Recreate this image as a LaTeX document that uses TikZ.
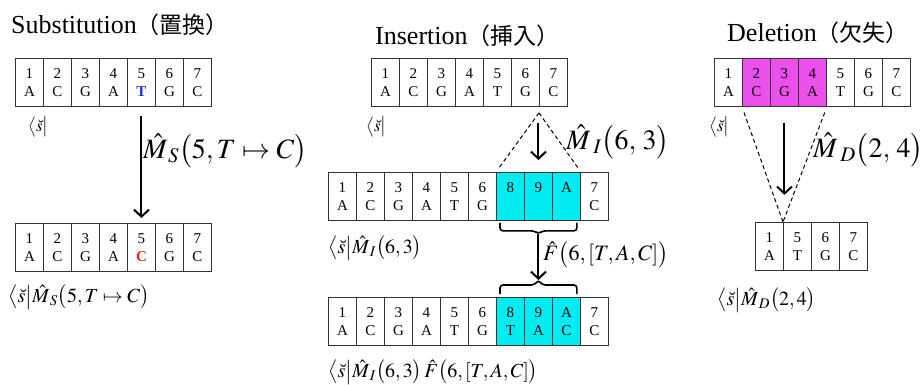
\documentclass[tikz,border=0pt]{standalone}
\usepackage{amsmath}
\usepackage{mathptmx}
\usepackage[no-math]{fontspec}
\setmainfont{Liberation Serif}
\newfontfamily\ttlfont{Liberation Serif}
\newfontfamily\cjk{Noto Sans CJK JP}
\usetikzlibrary{arrows.meta,calc}
\definecolor{cyanfill}{RGB}{0,236,240}
\definecolor{magfill}{RGB}{235,80,235}
\definecolor{tblue}{RGB}{20,50,235}
\definecolor{cred}{RGB}{245,30,30}
\newcommand{\cj}[1]{{\fontsize{23}{25}\cjk #1}}
\newcommand{\bra}{\bigl\langle\breve{s}\bigr\rvert}
\begin{document}
\begin{tikzpicture}[x=1pt,y=-1pt,
 cell/.style={draw=black!80, line width=0.9pt, minimum width=28pt, minimum height=48pt, inner sep=0pt, align=center, font=\fontsize{15}{18}\selectfont, anchor=north west},
 arr/.style={line width=2pt, -{Straight Barb[length=7pt,width=15pt,line width=2pt]}},
 dsh/.style={line width=1pt, dash pattern=on 4pt off 3pt},
 brc/.style={line width=1.6pt, rounded corners=3pt},
 ttl/.style={font=\ttlfont\fontsize{26}{28}\selectfont, anchor=base west, inner sep=0pt},
 biglab/.style={font=\fontsize{28}{30}\selectfont, anchor=west, inner sep=0pt},
 midlab/.style={font=\fontsize{22}{24}\selectfont, anchor=west, inner sep=0pt},
 smalllab/.style={font=\fontsize{20}{22}\selectfont, anchor=west, inner sep=0pt},
 bralab/.style={font=\fontsize{17}{20}\selectfont, anchor=west, inner sep=0pt}]
\useasboundingbox (0,0) rectangle (924,385);
\fill[white] (0,0) rectangle (924,385);

% ---------------- Substitution ----------------
\node[ttl] (t1) at (11,34) {Substitution\cj{（置換）}};
\foreach \n/\l [count=\i from 0] in {1/A,2/C,3/G,4/A,5/{\textbf{\color{tblue}T}},6/G,7/C}
  \node[cell] (a\i) at (15+28*\i,58) {\n\\\l};
\node[bralab] (sa) at (28,127) {$\bra$};
\foreach \n/\l [count=\i from 0] in {1/A,2/C,3/G,4/A,5/{\textbf{\color{cred}C}},6/G,7/C}
  \node[cell] (b\i) at (15+28*\i,223) {\n\\\l};
\draw[arr] ([yshift=-9pt]a4.south) -- ([yshift=5pt]b4.north);
\node[biglab] (ms) at (143,151) {$\hat{M}_{\,S}\bigl(5,T\mapsto C\bigr)$};
\node[smalllab] (sb) at (8,297) {$\bra\hat{M}_{\,S}\bigl(5,T\mapsto C\bigr)$};

% ---------------- Insertion ----------------
\node[ttl] (t2) at (375,45) {Insertion\cj{（挿入）}};
\foreach \n/\l [count=\i from 0] in {1/A,2/C,3/G,4/A,5/T,6/G,7/C}
  \node[cell] (c\i) at (371+28*\i,58) {\n\\\l};
\node[bralab] (sc) at (366,127) {$\bra$};
\foreach \n/\l/\f [count=\i from 0] in {1/A/white,2/C/white,3/G/white,4/A/white,5/T/white,6/G/white,8/\phantom{A}/cyanfill,9/\phantom{A}/cyanfill,A/\phantom{A}/cyanfill,7/C/white}
  \node[cell,fill=\f] (m\i) at (328+28*\i,172) {\n\\\l};
\coordinate (apx) at ($(c6.south west)+(0,6)$);
\draw[dsh,shorten >=5pt] (apx) -- (m6.north west);
\draw[dsh,shorten >=5pt] (apx) -- (m8.north east);
\draw[arr] ($(m7.north |- c6.south)+(0,16)$) -- ($(m7.north)+(0,-12)$);
\node[biglab] (mi) at (566,142) {$\hat{M}_{\;I}\bigl(6,\,3\bigr)$};
\node[smalllab] (sm) at (328,248) {$\bra\hat{M}_{\,I}\bigl(6,3\bigr)$};
% braces
\draw[brc] ($(m6.south west)+(4,2)$) -- ($(m6.south west)+(4,10)$) -- ($(m7.south)+(-4,10)$) -- ($(m7.south)+(0,13)$) -- ($(m7.south)+(4,10)$) -- ($(m8.south east)+(-4,10)$) -- ($(m8.south east)+(-4,2)$);
\foreach \n/\l/\f [count=\i from 0] in {1/A/white,2/C/white,3/G/white,4/A/white,5/T/white,6/G/white,8/T/cyanfill,9/A/cyanfill,A/C/cyanfill,7/C/white}
  \node[cell,fill=\f] (n\i) at (328+28*\i,297) {\n\\\l};
\draw[brc] ($(n6.north west)+(4,-3)$) -- ($(n6.north west)+(4,-12)$) -- ($(n7.north)+(-4,-12)$) -- ($(n7.north)+(0,-17)$) -- ($(n7.north)+(4,-12)$) -- ($(n8.north east)+(-4,-12)$) -- ($(n8.north east)+(-4,-3)$);
\coordinate (bt1) at ($(m7.south)+(0,13)$);
\coordinate (bt2) at ($(n7.north)+(0,-17)$);
\draw[arr] (bt1) -- (bt2);
\node[midlab] (fl) at (543,255) {$\hat{F}\bigl(6,[T,A,C]\bigr)$};
\node[smalllab] (sn) at (328,372) {$\bra\hat{M}_{\,I}\bigl(6,3\bigr)\,\hat{F}\bigl(6,[T,A,C]\bigr)$};

% ---------------- Deletion ----------------
\node[ttl] (t3) at (727,42) {Deletion\cj{（欠失）}};
\foreach \n/\l/\f [count=\i from 0] in {1/A/white,2/C/magfill,3/G/magfill,4/A/magfill,5/T/white,6/G/white,7/C/white}
  \node[cell,fill=\f] (d\i) at (714+28*\i,58) {\n\\\l};
\node[bralab] (sd) at (709,127) {$\bra$};
\foreach \n/\l [count=\i from 0] in {1/A,5/T,6/G,7/C}
  \node[cell] (e\i) at (755+28*\i,222) {\n\\\l};
\draw[dsh,shorten <=6pt] (d1.south west) -- (e1.north west);
\draw[dsh,shorten <=6pt] (d3.south east) -- (e1.north west);
\draw[arr] ($(d2.south)+(0,16)$) -- ($(d2.south)+(0,88)$);
\node[biglab] (md) at (813,150) {$\hat{M}_{\;D}\bigl(2,\,4\bigr)$};
\node[smalllab] (se) at (717,300) {$\bra\hat{M}_{\,D}\bigl(2,4\bigr)$};
\end{tikzpicture}
\end{document}
